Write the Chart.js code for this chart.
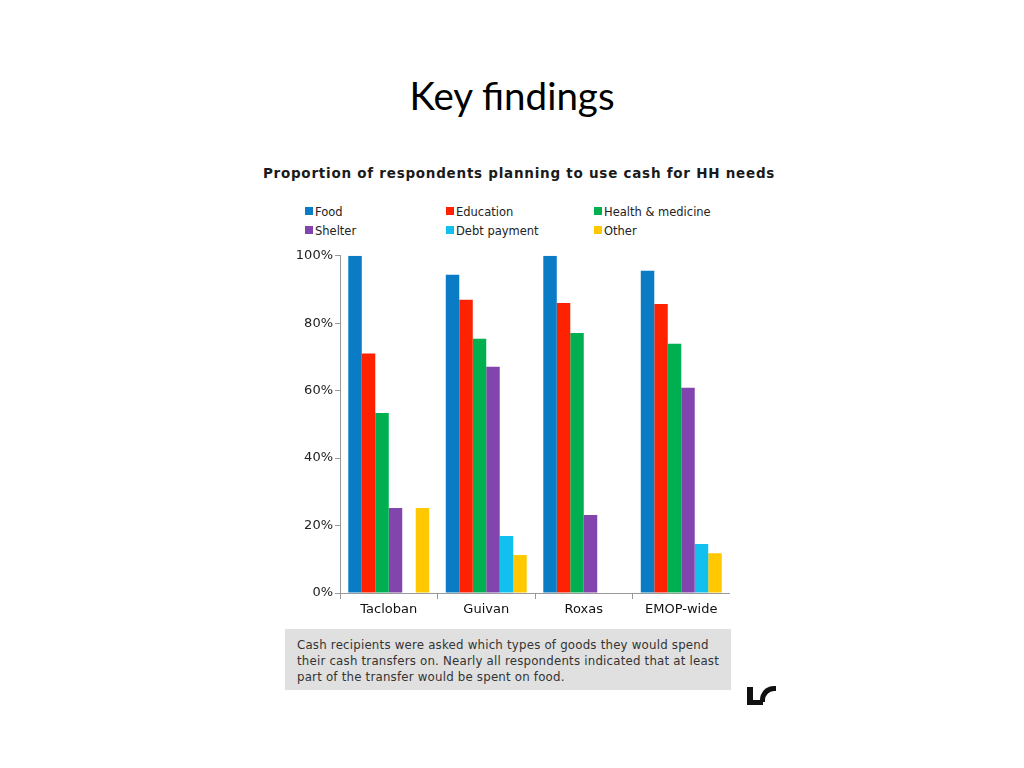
<!DOCTYPE html>
<html>
<head>
<meta charset="utf-8">
<script src="https://cdn.jsdelivr.net/npm/chart.js@4.4.1/dist/chart.umd.min.js"></script>
<style>
  body { margin: 0; width: 1024px; height: 768px; background: #fff; position: relative; overflow: hidden; font-family: "DejaVu Sans", sans-serif; }
  #title { position: absolute; left: 0; width: 1024px; top: 72px; text-align: center; font-family: Lato, "Open Sans", sans-serif; font-size: 38.5px; color: #000; }
  #subtitle { position: absolute; left: 262px; top: 165px; width: 514px; text-align: center; font-weight: bold; font-size: 13.5px; color: #1a1a1a; white-space: nowrap; letter-spacing: 0.75px; }
  #legend { position: absolute; left: 305px; top: 205px; }
  .item { position: absolute; white-space: nowrap; font-size: 11.5px; color: #222; }
  .item span.box { display: inline-block; width: 8px; height: 8px; margin-right: 2px; vertical-align: 1px; }
  #wrap { position: absolute; left: 280px; top: 246px; width: 450px; height: 374px; }
  #note { position: absolute; left: 285px; top: 629px; width: 434px; height: 61px; background: #e0e0e0; padding: 0 0 0 12px; font-size: 11.8px; letter-spacing: 0.2px; line-height: 16px; color: #333; white-space: nowrap; }
  #note div { padding-top: 8px; }
  #mark1 { position: absolute; left: 747px; top: 687px; width: 6px; height: 18px; background: #111; }
  #mark2 { position: absolute; left: 747px; top: 700px; width: 16px; height: 5px; background: #111; }
  #mark3 { position: absolute; left: 760px; top: 686px; width: 16px; height: 16px; border-top: 5px solid #111; border-left: 5px solid #111; border-radius: 14px 0 0 0; box-sizing: border-box; }
</style>
</head>
<body>
<div id="title">Key findings</div>
<div id="subtitle">Proportion of respondents planning to use cash for HH needs</div>
<div id="legend"></div>
<div id="wrap"><canvas id="chart"></canvas></div>
<div id="note"><div>Cash recipients were asked which types of goods they would spend<br>their cash transfers on. Nearly all respondents indicated that at least<br>part of the transfer would be spent on food.</div></div>
<div id="mark1"></div><div id="mark2"></div><div id="mark3"></div>
<script>
const categories = ['Tacloban', 'Guivan', 'Roxas', 'EMOP-wide'];
const seriesNames = ['Food', 'Education', 'Health & medicine', 'Shelter', 'Debt payment', 'Other'];
const seriesColors = ['#0a7cc6', '#ff2200', '#00b050', '#8244ad', '#12c0f0', '#ffc800'];
const food = [100, 94.4, 100, 95.6];
const education = [71, 87, 86, 85.7];
const health = [53.4, 75.4, 77.1, 73.9];
const shelter = [25.2, 67.1, 23.1, 60.9];
const debt = [0, 16.9, 0, 14.5];
const other = [25.2, 11.3, 0, 11.8];
const yTicks = [0, 20, 40, 60, 80, 100];

const seriesValues = [food, education, health, shelter, debt, other];

// html legend, 3 columns x 2 rows
const legendCols = [0, 141, 289];
const legend = document.getElementById('legend');
seriesNames.forEach((name, i) => {
  const el = document.createElement('div');
  el.className = 'item';
  el.style.left = legendCols[i % 3] + 'px';
  el.style.top = (Math.floor(i / 3) * 19) + 'px';
  el.innerHTML = '<span class="box" style="background:' + seriesColors[i] + '"></span>';
  el.appendChild(document.createTextNode(name));
  legend.appendChild(el);
});

const ctx = document.getElementById('chart').getContext('2d');
const chart = new Chart(ctx, {
  type: 'bar',
  data: {
    labels: categories,
    datasets: seriesNames.map((name, i) => ({
      label: name,
      data: seriesValues[i],
      backgroundColor: seriesColors[i],
      borderWidth: 0
    }))
  },
  options: {
    responsive: true,
    maintainAspectRatio: false,
    animation: false,
    categoryPercentage: 0.83,
    barPercentage: 1,
    layout: { padding: { top: 9, right: 0, bottom: 0, left: 0 } },
    plugins: {
      legend: { display: false },
      tooltip: { enabled: false }
    },
    scales: {
      x: {
        offset: true,
        grid: { offset: true, drawOnChartArea: false, tickLength: 6, color: '#999' },
        border: { color: '#999' },
        ticks: { color: '#111', font: { family: 'DejaVu Sans', size: 13 }, padding: 3 },
        afterFit: s => { s.height = 27; }
      },
      y: {
        min: 0,
        max: 100,
        afterBuildTicks: s => { s.ticks = yTicks.map(v => ({ value: v })); },
        grid: { drawOnChartArea: false, tickLength: 5, color: '#999' },
        border: { color: '#999' },
        ticks: { color: '#222', font: { family: 'DejaVu Sans', size: 13 }, padding: 2, callback: v => v + '%' },
        afterFit: s => { s.width = 60; }
      }
    }
  }
});
</script>
</body>
</html>
